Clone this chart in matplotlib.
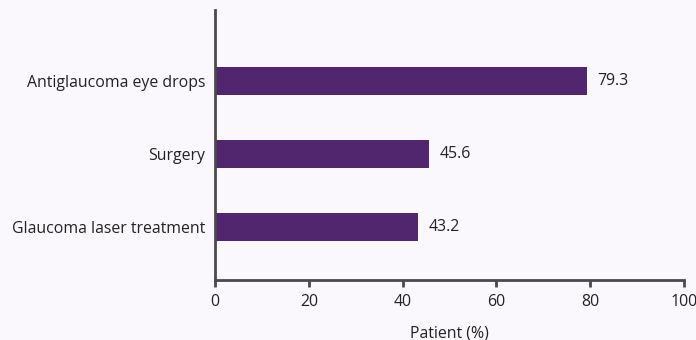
import matplotlib
matplotlib.use("Agg")
import matplotlib.pyplot as plt

categories = ["Glaucoma laser treatment", "Surgery", "Antiglaucoma eye drops"]
values = [43.2, 45.6, 79.3]
x_ticks = [0, 20, 40, 60, 80, 100]

BG = "#faf8fd"
BAR = "#52266f"
AXIS = "#4a4a4a"
TEXT = "#222222"
FS = 11.4

plt.rcParams["font.family"] = ["Open Sans", "DejaVu Sans"]

fig = plt.figure(figsize=(6.96, 3.4), dpi=100, facecolor=BG)
ax = fig.add_axes([0.3089, 0.1765, 0.6739, 0.7941])
ax.set_facecolor(BG)

ypos = list(range(len(categories)))
ax.barh(ypos, values, height=0.38, color=BAR)
for y, v in zip(ypos, values):
    ax.text(v + 2.3, y, f"{v:.1f}", va="center", ha="left", fontsize=FS, color=TEXT)

ax.set_xlim(0, 100)
ax.set_ylim(-0.726, 2.97)
ax.set_xticks(x_ticks)
ax.set_yticks(ypos)
ax.set_yticklabels(categories)
ax.tick_params(axis="y", length=0, pad=7, labelsize=FS, labelcolor=TEXT)
ax.tick_params(axis="x", length=5, width=2, color=AXIS, pad=5, labelsize=FS, labelcolor=TEXT)
ax.set_xlabel("Patient (%)", fontsize=FS, color=TEXT, labelpad=11)

for s in ["top", "right"]:
    ax.spines[s].set_visible(False)
for s in ["left", "bottom"]:
    ax.spines[s].set_color(AXIS)
    ax.spines[s].set_linewidth(2)

fig.savefig("out.png", dpi=100, facecolor=BG)
